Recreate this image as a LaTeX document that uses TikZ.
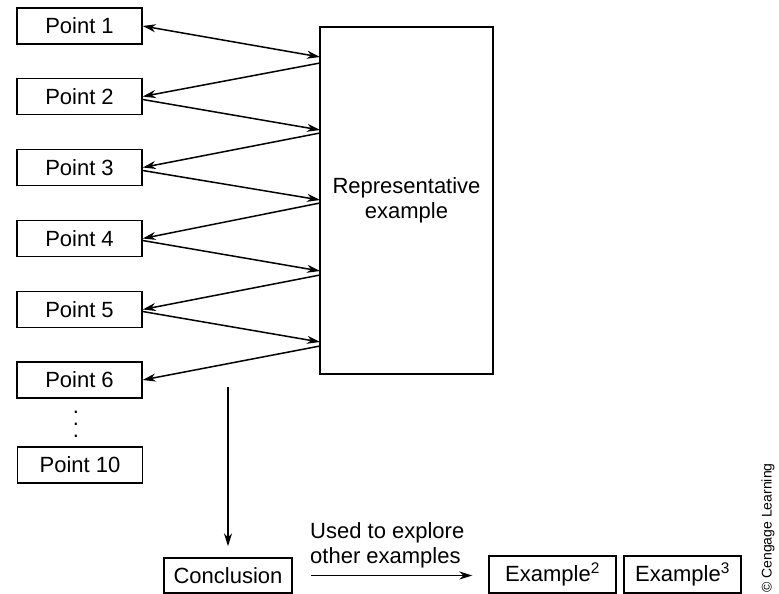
\documentclass[tikz,border=0pt]{standalone}
\usepackage{fontspec}
\setmainfont{Liberation Sans}
\usetikzlibrary{arrows.meta}
\begin{document}
\begin{tikzpicture}[x=1pt, y=-1pt, >={Stealth[length=13pt,width=8pt,inset=4pt]}]
	\tikzstyle{box}=[draw,line width=1.4pt,minimum width=125pt,minimum height=36pt,inner sep=0pt,font=\fontsize{22}{25}\selectfont]
	\tikzstyle{link}=[line width=1.5pt]
	\useasboundingbox (0,0) rectangle (779,594);
	\draw
	node[box](A)at(79.5,26){Point 1}
	node[box](B)at(79.5,96.5){Point 2}
	node[box](C)at(79.5,167.5){Point 3}
	node[box](D)at(79.5,238.5){Point 4}
	node[box](E)at(79.5,309.5){Point 5}
	node[box](F)at(79.5,380){Point 6}
	node[font=\fontsize{22}{12}\selectfont,align=center,inner sep=0pt,anchor=north](V)at(76,411){.\\.\\.}
	node[box](G)at(80,465){Point 10}
	node[box,minimum width=173pt,minimum height=347pt,align=center](R)at(406.5,200.5){Representative\\example}
	node[box,minimum width=128pt,minimum height=35pt](K)at(228,575.5){Conclusion}
	node[box,minimum width=127pt,minimum height=37pt](X)at(552.5,574.5){Example\textsuperscript{2}}
	node[box,minimum width=117pt,minimum height=37pt](Y)at(682.5,574.5){Example\textsuperscript{3}}
	node[anchor=south west,inner sep=0pt,align=left,font=\fontsize{22}{25}\selectfont](U)at(310,568){Used to explore\\other examples}
	node[rotate=90,inner sep=0pt,font=\fontsize{14}{16}\selectfont](W)at(768,528){\textcopyright\ Cengage Learning};
	
	% ends on the left side of the representative example
	\coordinate (a1) at (320,57);   \coordinate (b1) at (320,63);
	\coordinate (a2) at (320,130);  \coordinate (b2) at (320,133);
	\coordinate (a3) at (320,200);  \coordinate (b3) at (320,203);
	\coordinate (a4) at (320,271);  \coordinate (b4) at (320,275);
	\coordinate (a5) at (320,342);  \coordinate (b5) at (320,346);
	\coordinate (k0) at (228,387);
	
	\draw[link,<->](A.east)--(a1);
	\draw[link,->](b1)--(B.east);
	\draw[link,->]([yshift=-3pt]B.east)--(a2);
	\draw[link,->](b2)--(C.east);
	\draw[link,->]([yshift=-3pt]C.east)--(a3);
	\draw[link,->](b3)--(D.east);
	\draw[link,->]([yshift=-2pt]D.east)--(a4);
	\draw[link,->](b4)--(E.east);
	\draw[link,->]([yshift=-2pt]E.east)--(a5);
	\draw[link,->](b5)--(F.east);
	\draw[link,->,shorten >=11pt](k0)--(K.north);
	\draw[link,->,shorten <=18pt,shorten >=16pt](K.east)--(K.east -| X.west);
\end{tikzpicture}
\end{document}
